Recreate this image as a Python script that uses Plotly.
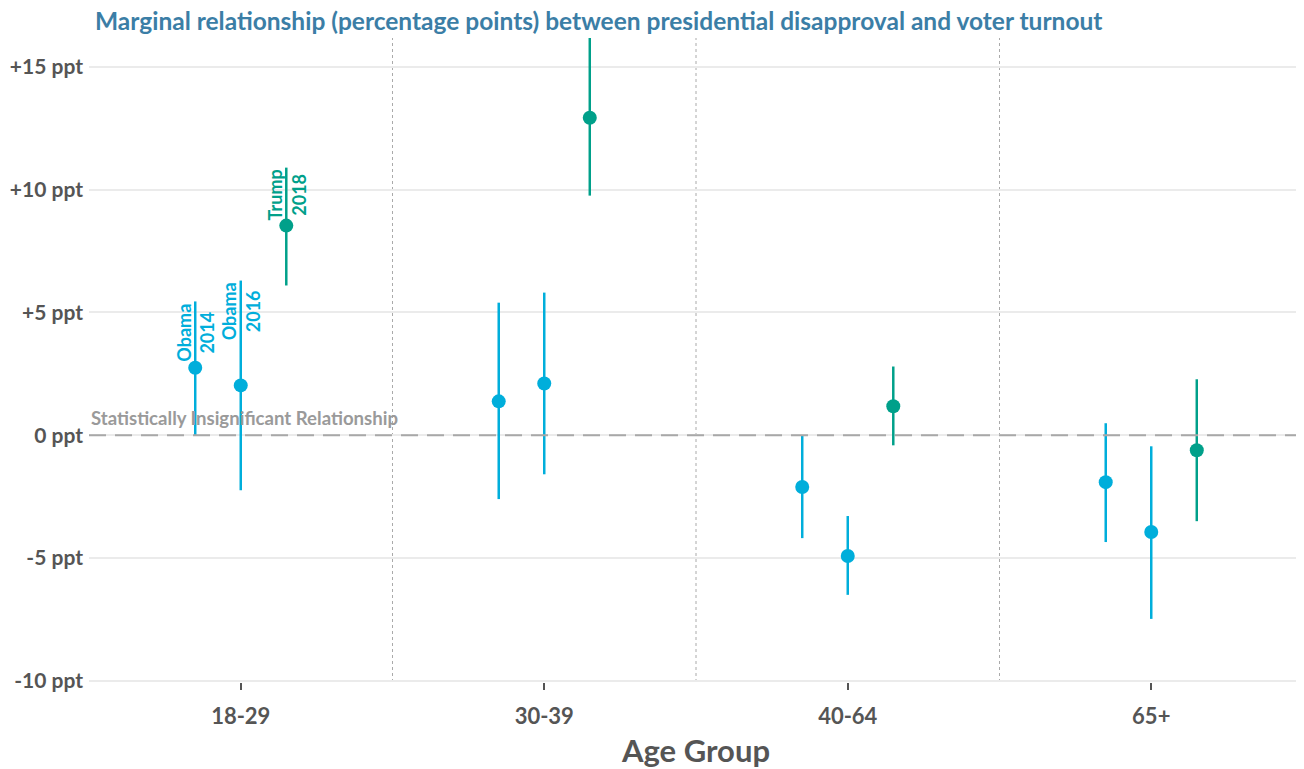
import plotly.graph_objects as go

categories = ["18-29", "30-39", "40-64", "65+"]
series_names = ["Obama 2014", "Obama 2016", "Trump 2018"]
offsets = [-0.15, 0.0, 0.15]
colors = ["#00AEDB", "#00AEDB", "#00A08A"]

est_2014 = [2.75, 1.38, -2.11, -1.91]
lo_2014 = [0.0, -2.6, -4.19, -4.35]
hi_2014 = [5.45, 5.4, 0.0, 0.49]

est_2016 = [2.03, 2.11, -4.92, -3.94]
lo_2016 = [-2.24, -1.59, -6.5, -7.48]
hi_2016 = [6.3, 5.81, -3.29, -0.45]

est_2018 = [8.54, 12.93, 1.18, -0.61]
lo_2018 = [6.1, 9.76, -0.41, -3.5]
hi_2018 = [10.9, 16.6, 2.8, 2.28]

ests = [est_2014, est_2016, est_2018]
los = [lo_2014, lo_2016, lo_2018]
his = [hi_2014, hi_2016, hi_2018]

ytickvals = [-10, -5, 0, 5, 10, 15]
yticktext = ["-10 ppt", "-5 ppt", "0 ppt", "+5 ppt", "+10 ppt", "+15 ppt"]

fig = go.Figure()
for name, off, col, e, lo, hi in zip(series_names, offsets, colors, ests, los, his):
    xs = [i + off for i in range(len(categories))]
    fig.add_trace(go.Scatter(
        x=xs, y=e, mode="markers", name=name,
        marker=dict(color=col, size=14),
        error_y=dict(type="data", symmetric=False,
                     array=[h - v for h, v in zip(hi, e)],
                     arrayminus=[v - l for v, l in zip(e, lo)],
                     color=col, thickness=2.5, width=0),
        cliponaxis=True, showlegend=False,
    ))

# zero reference line
fig.add_hline(y=0, line=dict(color="#A8A8A8", width=2, dash="17px,9px"), layer="above")
# separators between age groups
for i in range(len(categories) - 1):
    fig.add_vline(x=i + 0.5, line=dict(color="#AAAAAA", width=1, dash="dot"), layer="below")

fig.add_annotation(x=-0.5, y=0, xref="x", yref="y", text="Statistically Insignificant Relationship",
                   showarrow=False, xanchor="left", yanchor="bottom", yshift=4,
                   font=dict(family="Lato", size=18.6, color="#9A9A9A", weight="bold"))

# series labels on the first group
for name, off, col, hi in zip(series_names, offsets, colors, his):
    fig.add_annotation(x=0 + off, y=hi[0], xref="x", yref="y",
                       text=name.replace(" ", "<br>"), textangle=-90,
                       showarrow=False, xanchor="center", yanchor="top",
                       font=dict(family="Lato", size=18, color=col, weight="bold"))

fig.update_layout(
    width=1296, height=761,
    margin=dict(l=81, r=1, t=30, b=87),
    paper_bgcolor="white", plot_bgcolor="white",
    title=dict(text="Marginal relationship (percentage points) between presidential disapproval and voter turnout",
               x=0, xref="paper", xanchor="left", y=1, yref="container", yanchor="top", pad=dict(l=6, t=5),
               font=dict(family="Lato", size=24.5, color="#3B7EA6", weight="bold")),
    font=dict(family="Lato"),
)
fig.update_xaxes(
    range=[-0.5, 3.5], tickvals=list(range(len(categories))), ticktext=categories,
    showgrid=False, zeroline=False, showline=False, automargin=False,
    ticks="outside", ticklen=7, tickcolor="#555555", tickwidth=1.5, ticklabelstandoff=8,
    tickfont=dict(family="Lato", size=22, color="#555555", weight="bold"),
    title=dict(text="Age Group", font=dict(family="Lato", size=31, color="#555555", weight="bold"), standoff=13),
)
fig.update_yaxes(
    range=[-10.05, 16.18], tickvals=ytickvals, ticktext=yticktext,
    showgrid=True, gridcolor="#EBEBEB", gridwidth=1.5, zeroline=False, showline=False, automargin=False,
    ticks="", ticklabelstandoff=5,
    tickfont=dict(family="Lato", size=21, color="#555555", weight="bold"),
)

fig.write_html("out.html")
